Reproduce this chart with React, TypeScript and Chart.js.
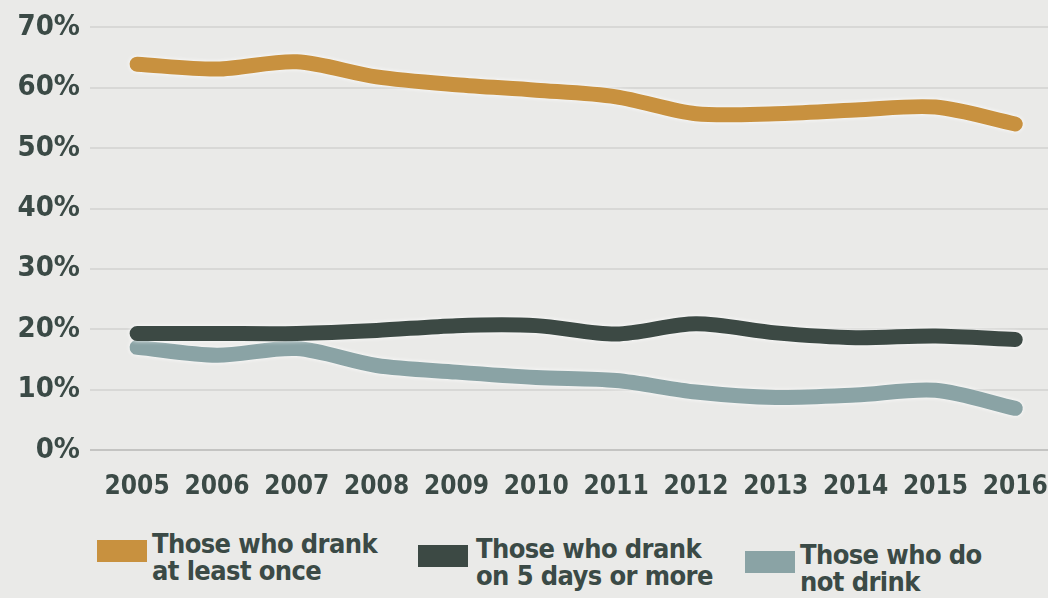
import React, { useEffect, useRef } from "react";
import { Chart, registerables } from "chart.js";

Chart.register(...registerables);

const years = [2005, 2006, 2007, 2008, 2009, 2010, 2011, 2012, 2013, 2014, 2015, 2016];
const drankAtLeastOnce = [63.9, 63.1, 64.3, 61.8, 60.5, 59.6, 58.5, 55.7, 55.7, 56.3, 56.8, 54.0];
const drankFiveDays = [19.3, 19.3, 19.3, 19.8, 20.6, 20.6, 19.2, 20.9, 19.4, 18.6, 18.9, 18.3];
const doNotDrink = [17.0, 15.7, 16.8, 14.0, 12.9, 12.0, 11.5, 9.6, 8.7, 9.1, 9.9, 6.9];
const yTicks = [0, 10, 20, 30, 40, 50, 60, 70];
const seriesNames = [
  ["Those who drank", "at least once"],
  ["Those who drank", "on 5 days or more"],
  ["Those who do", "not drink"],
];
const seriesColors = ["#c8913f", "#3c4944", "#8aa3a5"];

const FONT = "'DejaVu Sans Condensed', 'Liberation Sans Narrow', sans-serif";
const TEXT = "#3b4a46";

const glow = {
  id: "glow",
  beforeDatasetsDraw(chart: any) {
    const ctx = chart.ctx;
    ctx.save();
    ctx.shadowColor = "rgba(255,255,255,0.95)";
    ctx.shadowBlur = 4;
  },
  afterDatasetsDraw(chart: any) {
    chart.ctx.restore();
  },
};

export default function App() {
  const ref = useRef<HTMLCanvasElement | null>(null);

  useEffect(() => {
    if (!ref.current) return;
    const series = [drankAtLeastOnce, drankFiveDays, doNotDrink];
    const chart = new Chart(ref.current, {
      type: "line",
      data: {
        datasets: series.map((vals, i) => ({
          label: seriesNames[i].join(" "),
          data: years.map((y, j) => ({ x: y, y: vals[j] })),
          borderColor: seriesColors[i],
          backgroundColor: seriesColors[i],
          borderWidth: 15,
          borderCapStyle: "round" as const,
          borderJoinStyle: "round" as const,
          pointRadius: 0,
          tension: 0.3,
          fill: false,
        })),
      },
      options: {
        animation: false,
        responsive: false,
        devicePixelRatio: 1,
        layout: { padding: { top: 25, left: 0, right: 0, bottom: 0 } },
        plugins: { legend: { display: false }, tooltip: { enabled: false } },
        scales: {
          x: {
            type: "linear",
            min: 2004.41,
            max: 2016.41,
            afterBuildTicks: (s: any) => {
              s.ticks = years.map((v) => ({ value: v }));
            },
            afterFit: (s: any) => {
              s.height = 70;
              s.paddingRight = 0;
              s.paddingLeft = 0;
            },
            grid: { display: false },
            border: { display: false },
            ticks: {
              autoSkip: false,
              maxRotation: 0,
              padding: 14,
              color: TEXT,
              font: { family: FONT, size: 26, weight: "bold" },
              callback: (v: any) => String(v),
            },
          },
          y: {
            min: 0,
            max: 70,
            afterBuildTicks: (s: any) => {
              s.ticks = yTicks.map((v) => ({ value: v }));
            },
            afterFit: (s: any) => {
              s.width = 90;
            },
            grid: {
              color: (c: any) => (c.tick && c.tick.value === 0 ? "#c4c4c2" : "#d8d8d6"),
              lineWidth: 2,
              drawTicks: false,
            },
            border: { display: false },
            ticks: {
              padding: 10,
              color: TEXT,
              font: { family: FONT, size: 29, weight: "bold" },
              callback: (v: any) => v + "%",
            },
          },
        },
      },
      plugins: [glow],
    });
    return () => chart.destroy();
  }, []);

  const legendPos = [
    { box: 97, text: 152, top: 540 },
    { box: 418, text: 476, top: 545 },
    { box: 745, text: 800, top: 551 },
  ];

  return (
    <div
      style={{
        position: "fixed",
        left: 0,
        top: 0,
        width: 1048,
        height: 598,
        background: "#eaeae8",
        overflow: "hidden",
      }}
    >
      <canvas ref={ref} width={1048} height={520} style={{ position: "absolute", left: 0, top: 0 }} />
      {seriesNames.map((lines, i) => (
        <React.Fragment key={i}>
          <div
            style={{
              position: "absolute",
              left: legendPos[i].box,
              top: legendPos[i].top,
              width: 50,
              height: 22,
              background: seriesColors[i],
            }}
          />
          <div
            style={{
              position: "absolute",
              left: legendPos[i].text,
              top: legendPos[i].top - 10,
              fontFamily: FONT,
              fontWeight: "bold",
              fontSize: 27,
              lineHeight: "27px",
              letterSpacing: "-0.6px",
              color: TEXT,
              whiteSpace: "nowrap",
            }}
          >
            {lines[0]}
            <br />
            {lines[1]}
          </div>
        </React.Fragment>
      ))}
    </div>
  );
}
